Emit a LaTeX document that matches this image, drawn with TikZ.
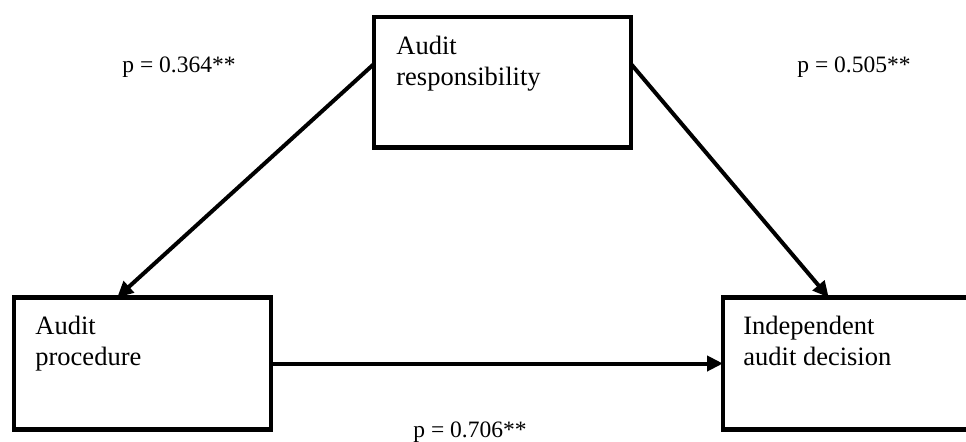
\documentclass[tikz,border=0pt]{standalone}
\usepackage{fontspec}
\setmainfont{Liberation Serif}
\usepackage{tikz}
\usetikzlibrary{arrows.meta}
\tikzset{basic/.style={draw,line width=2.25pt,inner sep=0pt,outer sep=0pt,
                       minimum width=128.5pt,minimum height=66pt}}
\tikzset{boxtext/.style={align=left,inner sep=0pt,anchor=north west,
                       font=\fontsize{13.25}{15.5}\selectfont}}

\begin{document}
\begin{tikzpicture}[x=0.5pt,y=-0.5pt]
  \useasboundingbox (0,0) rectangle (966,441);

  \tikzstyle{link}=[line width=2pt,-{Triangle[length=8pt,width=7.5pt]}];
  \tikzstyle{coef}=[anchor=base west,inner sep=0pt,font=\fontsize{11.75}{14}\selectfont];

  \node (responsibility) at (502.5, 82) [basic,minimum height=65.25pt]{};
  \node (procedure) at (142.5, 363.5) [basic]{};
  \node (decision) at (851.5, 363.5) [basic]{};

  \node (responsibility_text) at ([shift={(22,18.5)}]responsibility.north west) [boxtext]{Audit\\responsibility};
  \node (procedure_text) at ([shift={(21,18.5)}]procedure.north west) [boxtext]{Audit\\procedure};
  \node (decision_text) at ([shift={(20,18.5)}]decision.north west) [boxtext]{Independent\\audit decision};

  \node (coef_1) at (122, 72) [coef]{p = 0.364**};
  \node (coef_2) at (797, 72) [coef]{p = 0.505**};
  \node (coef_3) at (413, 437) [coef]{p = 0.706**};

  \draw[link] (responsibility.172.5) -- (procedure.111);
  \draw[link] (responsibility.8.4) -- (decision.109.6);
  \draw[link] (procedure.east) -- (decision.west);

\end{tikzpicture}
\end{document}
